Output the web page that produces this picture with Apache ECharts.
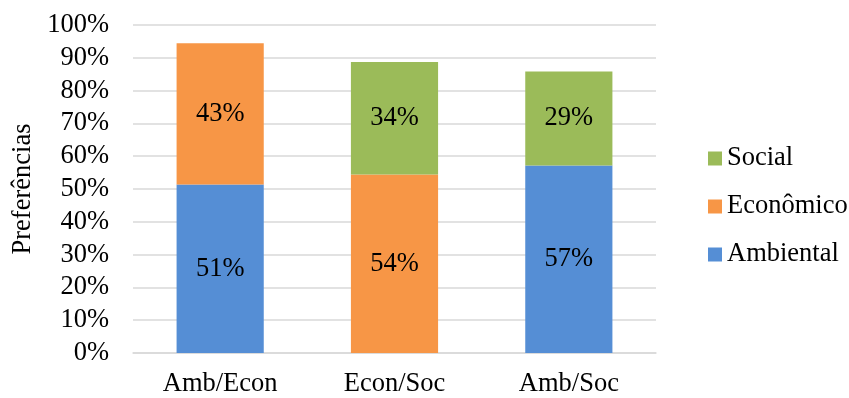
<!DOCTYPE html>
<html lang="pt">
<head>
  <meta charset="UTF-8">
  <title>Preferências</title>
  <script src="https://cdn.jsdelivr.net/npm/echarts@6/dist/echarts.min.js"></script>
</head>
<body style="margin:0">
  <div id="chart" style="width:849px;height:398px"></div>
  <script>
    const categories = ['Amb/Econ', 'Econ/Soc', 'Amb/Soc']
    // valores (%)
    const ambiental = [51.4, null, 57.2]
    const economico = [43.0, 54.4, null]
    const social = [null, 34.3, 28.6]

    const serif = 'Liberation Serif'
    const fs = 26.5
    const label = {
      show: true,
      position: 'inside',
      color: '#000',
      fontFamily: serif,
      fontSize: fs,
      formatter: p => Math.round(p.value) + '%'
    }

    const myChart = echarts.init(document.getElementById('chart'))
    const option = {
      animation: false,
      textStyle: { fontFamily: serif },
      grid: { left: 133, right: 193, top: 25, bottom: 44.5 },
      legend: {
        orient: 'vertical',
        left: 703,
        top: 140,
        itemWidth: 14,
        itemHeight: 14,
        itemGap: 21,
        icon: 'rect',
        data: ['Social', 'Econômico', 'Ambiental'],
        textStyle: { fontFamily: serif, fontSize: fs, color: '#000' }
      },
      xAxis: {
        type: 'category',
        data: categories,
        axisTick: { show: false },
        axisLine: { lineStyle: { color: '#D9D9D9', width: 1.5 } },
        axisLabel: { color: '#000', fontSize: fs, fontFamily: serif, margin: 18 }
      },
      yAxis: {
        type: 'value',
        min: 0,
        max: 100,
        interval: 10,
        name: 'Preferências',
        nameLocation: 'middle',
        nameGap: 94,
        nameTextStyle: { color: '#000', fontSize: fs, fontFamily: serif },
        axisLabel: { color: '#000', fontSize: fs, fontFamily: serif, margin: 24, formatter: '{value}%' },
        splitLine: { lineStyle: { color: '#D9D9D9', width: 1.5 } }
      },
      series: [
        { name: 'Ambiental', type: 'bar', stack: 'total', barWidth: '50%', data: ambiental, label, itemStyle: { color: '#558ED5' } },
        { name: 'Econômico', type: 'bar', stack: 'total', data: economico, label, itemStyle: { color: '#F79646' } },
        { name: 'Social', type: 'bar', stack: 'total', data: social, label, itemStyle: { color: '#9BBB59' } }
      ]
    }
    myChart.setOption(option)
  </script>
</body>
</html>
